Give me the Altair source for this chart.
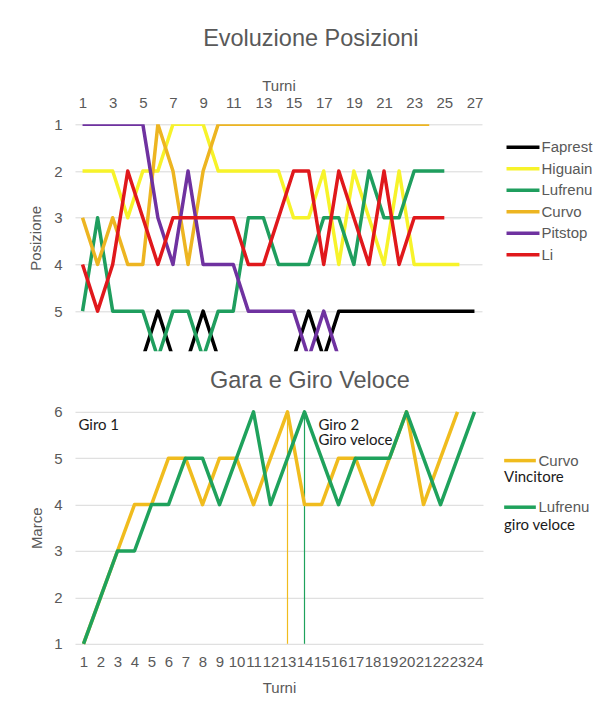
import altair as alt
import pandas as pd

# ---------------- Top chart: Evoluzione Posizioni ----------------
piloti = ["Faprest", "Higuain", "Lufrenu", "Curvo", "Pitstop", "Li"]
colori = ["#000000", "#F7F32A", "#1F9E5E", "#EDB521", "#6F32A0", "#E0181C"]

faprest = [6, 6, 6, 6, 6, 5, 6, 6, 5, 6, 6, 6, 6, 6, 6, 5, 6, 5, 5, 5, 5, 5, 5, 5, 5, 5, 5]
higuain = [2, 2, 2, 3, 2, 2, 1, 1, 1, 2, 2, 2, 2, 2, 3, 3, 2, 4, 2, 3, 4, 2, 4, 4, 4, 4]
lufrenu = [5, 3, 5, 5, 5, 6, 5, 5, 6, 5, 5, 3, 3, 4, 4, 4, 3, 3, 4, 2, 3, 3, 2, 2, 2]
curvo = [3, 4, 3, 4, 4, 1, 2, 4, 2, 1, 1, 1, 1, 1, 1, 1, 1, 1, 1, 1, 1, 1, 1, 1]
pitstop = [1, 1, 1, 1, 1, 3, 4, 2, 4, 4, 4, 5, 5, 5, 5, 6, 5, 6]
li = [4, 5, 4, 2, 3, 4, 3, 3, 3, 3, 3, 4, 4, 3, 2, 2, 4, 2, 3, 4, 2, 4, 3, 3, 3]

top_ticks = [1, 3, 5, 7, 9, 11, 13, 15, 17, 19, 21, 23, 25, 27]
top_pos_ticks = [1, 2, 3, 4, 5]

# ---------------- Bottom chart: Gara e Giro Veloce ----------------
piloti_gara = ["Curvo", "Lufrenu"]
colori_gara = ["#F0BC1E", "#1FA25C"]
curvo_marce = [1, 2, 3, 4, 4, 5, 5, 4, 5, 5, 4, 5, 6, 4, 4, 5, 5, 4, 5, 6, 4, 5, 6]
lufrenu_marce = [1, 2, 3, 3, 4, 4, 5, 5, 4, 5, 6, 4, 5, 6, 5, 4, 5, 5, 5, 6, 5, 4, 5, 6]
bot_ticks = list(range(1, 25))
marce_ticks = [1, 2, 3, 4, 5, 6]

rule_turni = [13, 14]
rule_piloti = ["Curvo", "Lufrenu"]
rule_note = ["Vincitore", "giro veloce"]

note_testi = ["Giro 1", "Giro 2", "Giro veloce"]
note_turni = [0.7, 14.82, 14.82]
note_marce = [5.72, 5.72, 5.40]

# ---------------- tables ----------------
rows = []
for nome, serie in zip(piloti, [faprest, higuain, lufrenu, curvo, pitstop, li]):
    for i, v in enumerate(serie):
        rows.append({"turno": i + 1, "pilota": nome, "posizione": v})
df_top = pd.DataFrame(rows)

rows = []
for nome, serie in zip(piloti_gara, [curvo_marce, lufrenu_marce]):
    for i, v in enumerate(serie):
        rows.append({"turno": i + 1, "pilota": nome, "marce": v})
df_bot = pd.DataFrame(rows)

df_rules = pd.DataFrame({"turno": rule_turni, "pilota": rule_piloti, "nota": rule_note})
df_notes = pd.DataFrame({"turno": note_turni, "marce": note_marce, "testo": note_testi})

GRAY = "#595959"
FONT = "Liberation Sans"

top = alt.Chart(df_top).mark_line(strokeWidth=3.5, clip=True, strokeJoin="round").encode(
    x=alt.X("turno:Q",
            scale=alt.Scale(domain=[0.5, 27.5], nice=False, zero=False),
            axis=alt.Axis(orient="top", values=top_ticks, title="Turni", grid=False,
                          domain=False, ticks=False, labelPadding=13.3, titlePadding=2,
                          labelFlush=False, labelOverlap=False)),
    y=alt.Y("posizione:Q",
            scale=alt.Scale(domain=[1, 5.86], reverse=True, nice=False, zero=False),
            axis=alt.Axis(values=top_pos_ticks, title="Posizione", grid=True,
                          domain=False, ticks=False, labelPadding=13, titlePadding=10)),
    color=alt.Color("pilota:N", sort=piloti,
                    scale=alt.Scale(domain=piloti, range=colori),
                    legend=alt.Legend(title=None, orient="none", legendX=438, legendY=13,
                                      symbolType="M-2.06,0H2.06", symbolSize=256,
                                      symbolStrokeWidth=3.5, labelOffset=8.5, rowPadding=3.5)),
).properties(width=407, height=227,
             title=alt.TitleParams("Evoluzione Posizioni", offset=28.7))

color_gara = alt.Color("pilota:N", sort=piloti_gara,
                       scale=alt.Scale(domain=piloti_gara, range=colori_gara),
                       legend=alt.Legend(title=None, orient="none", legendX=435, legendY=38.8,
                                         symbolType="M-1.98,0H1.98", symbolSize=256,
                                         symbolStrokeWidth=3.5, labelOffset=8.5, rowPadding=28.6))

x_bot = alt.X("turno:Q",
              scale=alt.Scale(domain=[0.5, 24.5], nice=False, zero=False),
              axis=alt.Axis(values=bot_ticks, title="Turni", grid=False, domain=False,
                            ticks=False, labelOverlap=False, labelFlush=False,
                            labelPadding=10.3, titlePadding=11.7))
y_bot = alt.Y("marce:Q",
              scale=alt.Scale(domain=[1, 6], nice=False, zero=False),
              axis=alt.Axis(values=marce_ticks, title="Marce", grid=True, domain=False,
                            ticks=False, labelPadding=13, titlePadding=9))

rules = alt.Chart(df_rules).mark_rule(strokeWidth=1.2).encode(
    x=x_bot,
    color=color_gara,
    opacity=alt.Opacity("nota:N", sort=rule_note,
                        scale=alt.Scale(domain=rule_note, range=[1, 1]),
                        legend=alt.Legend(title=None, orient="none", legendX=414, legendY=57.3,
                                          symbolSize=1, symbolStrokeWidth=0, symbolOpacity=0,
                                          labelOffset=0, rowPadding=32.5, labelFont="Lato",
                                          labelFontSize=15, labelColor="#1a1a1a")),
)
lines = alt.Chart(df_bot).mark_line(strokeWidth=3.5, strokeJoin="round").encode(
    x=x_bot, y=y_bot, color=color_gara,
)
notes = alt.Chart(df_notes).mark_text(align="left", baseline="middle", font="Lato",
                                      fontSize=15, color="#1a1a1a").encode(
    x=x_bot, y=y_bot, text="testo:N",
)
bottom = alt.layer(rules, lines, notes).properties(
    width=408, height=232,
    title=alt.TitleParams("Gara e Giro Veloce", offset=11.9))

chart = alt.vconcat(top, bottom, spacing=17.5).resolve_scale(
    color="independent", opacity="independent"
).resolve_legend(
    color="independent", opacity="independent"
).properties(
    padding={"left": 20, "top": 18.3, "right": 0, "bottom": 5}
).configure_view(stroke=None).configure_axis(
    labelFont=FONT, labelFontSize=15, labelColor=GRAY,
    titleFont=FONT, titleFontSize=15, titleColor=GRAY, titleFontWeight="normal",
    gridColor="#D9D9D9", gridWidth=1, labelOverlap=False,
).configure_legend(
    labelFont=FONT, labelFontSize=15, labelColor=GRAY,
).configure_title(
    font=FONT, fontSize=23.5, fontWeight="normal", color=GRAY, anchor="middle", frame="bounds",
)

chart.save("out.html", embed_options={"renderer": "svg", "actions": False})
